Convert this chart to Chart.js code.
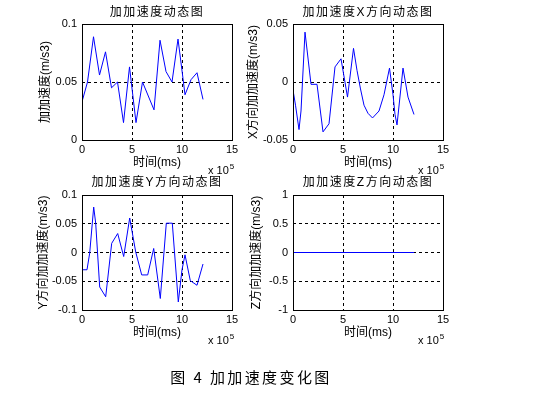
<!DOCTYPE html>
<html><head><meta charset="utf-8">
<script src="https://cdn.jsdelivr.net/npm/chart.js@4/dist/chart.umd.min.js"></script>
<style>
html,body{margin:0;padding:0;background:#fff;}
#wrap{position:relative;width:555px;height:394px;overflow:hidden;background:#fff;}
canvas{position:absolute;left:0;top:0;}
.t{position:absolute;font-family:'Liberation Sans','Noto Sans CJK SC',sans-serif;font-size:12px;letter-spacing:1.5px;white-space:nowrap;transform:translate(-50%,-50%);color:#000;line-height:1;}
.m{position:absolute;font-family:'Liberation Sans',sans-serif;font-size:11px;white-space:nowrap;color:#000;line-height:1;}
.m sup{font-size:8px;position:relative;top:-2px;vertical-align:top;margin-left:1px;}
#cap{position:absolute;left:251px;top:376px;transform:translate(-50%,-50%);font-family:'Noto Sans CJK SC',sans-serif;font-size:15px;letter-spacing:2.4px;white-space:nowrap;color:#000;line-height:1;}
</style></head>
<body><div id="wrap">
<canvas id="c1" width="555" height="394"></canvas>
<canvas id="c2" width="555" height="394"></canvas>
<canvas id="c3" width="555" height="394"></canvas>
<canvas id="c4" width="555" height="394"></canvas>
<div class="t" style="left:157px;top:12px">加加速度动态图</div>
<div class="t" style="left:368px;top:12px">加加速度X方向动态图</div>
<div class="t" style="left:157px;top:182px">加加速度Y方向动态图</div>
<div class="t" style="left:368px;top:182px">加加速度Z方向动态图</div>
<div class="m" style="left:208px;top:165px">x 10<sup>5</sup></div>
<div class="m" style="left:418px;top:165px">x 10<sup>5</sup></div>
<div class="m" style="left:208px;top:335px">x 10<sup>5</sup></div>
<div class="m" style="left:418px;top:335px">x 10<sup>5</sup></div>
<div id="cap">图 4 加加速度变化图</div>
</div>
<script>
// ---- data (time in units of 1e5 ms) ----
const timeTicks = [0, 5, 10, 15];

const jerkT = [0, 0.55, 1.15, 1.75, 2.35, 2.95, 3.55, 4.15, 4.75, 5.4, 6.05, 7.2, 7.8, 8.4, 9.0, 9.6, 10.1, 10.3, 10.9, 11.5, 12.1];
const jerkV = [0.033, 0.05, 0.089, 0.056, 0.076, 0.045, 0.05, 0.015, 0.063, 0.015, 0.05, 0.026, 0.086, 0.059, 0.05, 0.087, 0.053, 0.039, 0.052, 0.058, 0.035];

const jerkXT = [0, 0.25, 0.6, 0.8, 1.2, 1.8, 2.4, 3.0, 3.6, 4.2, 4.8, 5.45, 6.05, 6.4, 6.75, 7.1, 7.5, 7.95, 8.6, 9.1, 9.65, 10.0, 10.2, 10.4, 11.0, 11.5, 12.1];
const jerkXV = [-0.007, -0.02, -0.041, -0.025, 0.043, -0.002, -0.002, -0.043, -0.036, 0.013, 0.02, -0.013, 0.029, 0.01, -0.006, -0.02, -0.027, -0.031, -0.025, -0.011, 0.012, -0.011, -0.028, -0.037, 0.012, -0.013, -0.028];

const jerkYT = [0, 0.5, 0.77, 1.17, 1.37, 1.77, 2.37, 2.97, 3.57, 4.17, 4.77, 5.37, 5.97, 6.57, 7.17, 7.83, 8.43, 9.03, 9.63, 10.0, 10.3, 10.83, 11.5, 12.1];
const jerkYV = [-0.03, -0.03, -0.001, 0.079, 0.051, -0.06, -0.077, 0.016, 0.033, -0.007, 0.06, 0.001, -0.039, -0.039, 0.007, -0.08, 0.051, 0.051, -0.086, -0.03, -0.004, -0.049, -0.057, -0.02];

const jerkZT = [0, 12.1];
const jerkZV = [0, 0];

const ticksTotal = [0, 0.05, 0.1];
const ticksX = [-0.05, 0, 0.05];
const ticksY = [-0.1, -0.05, 0, 0.05, 0.1];
const ticksZ = [-1, -0.5, 0, 0.5, 1];

// ---- drawing ----
Chart.defaults.font.family = "'Liberation Sans','Noto Sans CJK SC',sans-serif";
Chart.defaults.font.size = 11;
Chart.defaults.color = '#000';

const W = 555, H = 394;
const boxPlugin = {
  id: 'box',
  afterDraw(chart) {
    const a = chart.chartArea, ctx = chart.ctx;
    ctx.save();
    ctx.strokeStyle = '#000'; ctx.lineWidth = 1; ctx.setLineDash([]);
    const l = Math.round(a.left) + 0.5, t = Math.round(a.top) + 0.5;
    const r = Math.round(a.right) + 0.5, b = Math.round(a.bottom) + 0.5;
    ctx.strokeRect(l, t, r - l, b - t);
    ctx.restore();
  }
};

function makeChart(id, T, V, yTicks, area, padL, yTitle, yTitleX) {
  const xBottom = area.b + 30;
  const ymin = yTicks[0], ymax = yTicks[yTicks.length - 1];
  const gridColor = (lo, hi) => (c) => (c.tick && c.tick.value > lo && c.tick.value < hi) ? '#000' : 'rgba(0,0,0,0)';
  new Chart(document.getElementById(id), {
    type: 'line',
    data: { datasets: [{ data: T.map((x, i) => ({ x, y: V[i] })), borderColor: '#0000ff', borderWidth: 1, pointRadius: 0, tension: 0, fill: false }] },
    options: {
      responsive: false, animation: false, devicePixelRatio: 1,
      layout: { padding: { left: padL, right: W - area.r, top: area.t, bottom: H - xBottom } },
      plugins: { legend: { display: false }, tooltip: { enabled: false }, title: { display: false } },
      scales: {
        x: {
          type: 'linear', min: 0, max: 15,
          afterBuildTicks: s => { s.ticks = timeTicks.map(v => ({ value: v })); },
          afterFit: s => { s.height = xBottom - area.b; },
          grid: { color: gridColor(0, 15), lineWidth: 1, drawTicks: false },
          border: { display: false, dash: [3, 3] },
          ticks: { padding: 3, maxRotation: 0, autoSkip: false, callback: v => String(v), font: { size: 11 } },
          title: { display: true, text: '时间(ms)', font: { size: 12 }, padding: { top: 0, bottom: 0 } }
        },
        y: {
          type: 'linear', min: ymin, max: ymax,
          afterBuildTicks: s => { s.ticks = yTicks.map(v => ({ value: v })); },
          afterFit: s => { s.width = area.l - padL; },
          grid: { color: gridColor(ymin, ymax), lineWidth: 1, drawTicks: false },
          border: { display: false, dash: [3, 3] },
          ticks: { padding: 5, autoSkip: false, callback: v => String(v), font: { size: 11 } },
          title: { display: true, text: yTitle, font: { size: 12 }, padding: { top: yTitleX - padL - 7.2, bottom: 0 } }
        }
      }
    },
    plugins: [boxPlugin]
  });
}

makeChart('c1', jerkT, jerkV, ticksTotal, { l: 82, r: 232, t: 24, b: 140 }, 0, '加加速度(m/s3)', 46);
makeChart('c2', jerkXT, jerkXV, ticksX, { l: 293, r: 443, t: 24, b: 140 }, 200, 'X方向加加速度(m/s3)', 254);
makeChart('c3', jerkYT, jerkYV, ticksY, { l: 82, r: 232, t: 195, b: 310 }, 0, 'Y方向加加速度(m/s3)', 44);
makeChart('c4', jerkZT, jerkZV, ticksZ, { l: 293, r: 443, t: 195, b: 310 }, 200, 'Z方向加加速度(m/s3)', 257);
</script>
</body></html>
